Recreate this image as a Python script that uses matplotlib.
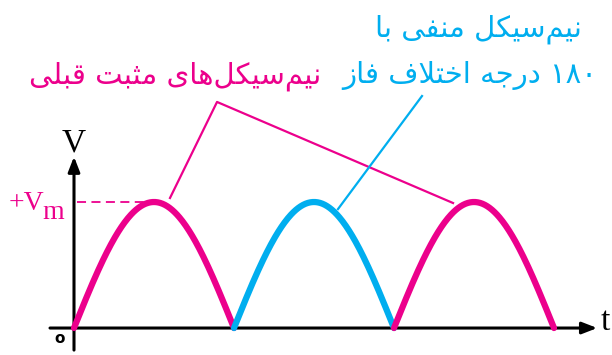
import numpy as np
import matplotlib
matplotlib.use("Agg")
import matplotlib.pyplot as plt

# --- data -------------------------------------------------------------------
half_period = 1.0            # duration of one half-cycle
v_peak = 1.0                 # Vm
hump_starts = [0.0, 1.0, 2.0]
hump_kind = ["positive", "inverted", "positive"]

label_positive = "نیم" + "\u200c" + "سیکل" + "\u200c" + "های مثبت قبلی"
label_negative_1 = "نیم" + "\u200c" + "سیکل منفی با"
label_negative_2 = "۱۸۰ درجه اختلاف فاز"

PINK = "#EC008C"
BLUE = "#00AEEF"
kind_color = {"positive": PINK, "inverted": BLUE}

# --- tiny Persian shaper (matplotlib has no complex text layout) ------------
ZWNJ = "\u200c"
FORMS = {
    "\u0627": ("\uFE8D", "\uFE8E", None, None),          # alef
    "\u0628": ("\uFE8F", "\uFE90", "\uFE91", "\uFE92"),  # beh
    "\u062A": ("\uFE95", "\uFE96", "\uFE97", "\uFE98"),  # teh
    "\u062B": ("\uFE99", "\uFE9A", "\uFE9B", "\uFE9C"),  # theh
    "\u062C": ("\uFE9D", "\uFE9E", "\uFE9F", "\uFEA0"),  # jeem
    "\u062E": ("\uFEA5", "\uFEA6", "\uFEA7", "\uFEA8"),  # khah
    "\u062F": ("\uFEA9", "\uFEAA", None, None),          # dal
    "\u0631": ("\uFEAD", "\uFEAE", None, None),          # reh
    "\u0632": ("\uFEAF", "\uFEB0", None, None),          # zain
    "\u0633": ("\uFEB1", "\uFEB2", "\uFEB3", "\uFEB4"),  # seen
    "\u0641": ("\uFED1", "\uFED2", "\uFED3", "\uFED4"),  # feh
    "\u0642": ("\uFED5", "\uFED6", "\uFED7", "\uFED8"),  # qaf
    "\u0644": ("\uFEDD", "\uFEDE", "\uFEDF", "\uFEE0"),  # lam
    "\u0645": ("\uFEE1", "\uFEE2", "\uFEE3", "\uFEE4"),  # meem
    "\u0646": ("\uFEE5", "\uFEE6", "\uFEE7", "\uFEE8"),  # noon
    "\u0647": ("\uFEE9", "\uFEEA", "\uFEEB", "\uFEEC"),  # heh
    "\u06CC": ("\uFBFC", "\uFBFD", "\uFBFE", "\uFBFF"),  # farsi yeh
    "\u06A9": ("\uFB8E", "\uFB8F", "\uFB90", "\uFB91"),  # keheh
}


def joins_left(c):
    return c in FORMS and FORMS[c][2] is not None


def shape_word(w):
    w = w.replace("\u064A", "\u06CC").replace("\u0643", "\u06A9")
    out, i = [], 0
    while i < len(w):
        c = w[i]
        if c not in FORMS:
            if c != ZWNJ:
                out.append(c)
            i += 1
            continue
        jp = i > 0 and joins_left(w[i - 1])
        if c == "\u0644" and i + 1 < len(w) and w[i + 1] == "\u0627":
            out.append("\uFEFC" if jp else "\uFEFB")
            i += 2
            continue
        jn = joins_left(c) and i + 1 < len(w) and w[i + 1] in FORMS
        iso, fin, ini, med = FORMS[c]
        out.append(med if (jp and jn) else fin if jp else ini if jn else iso)
        i += 1
    return out


def rtl(text):
    words = []
    for w in text.split(" "):
        if all(ch.isdigit() for ch in w):
            words.append(w)
        else:
            words.append("".join(reversed(shape_word(w))))
    return " ".join(reversed(words))


# --- figure -----------------------------------------------------------------
fig = plt.figure(figsize=(6.12, 3.55), dpi=100)
ax = fig.add_axes([0, 0, 1, 1])
ax.set_xlim(-0.4625, 3.3625)
ax.set_ylim(-0.214, 2.603)
ax.axis("off")

# axes with arrows
ax.annotate("", xy=(3.27, 0), xytext=(-0.15, 0),
            arrowprops=dict(arrowstyle="-|>,head_length=0.9,head_width=0.35",
                            lw=2.2, color="black", shrinkA=0, shrinkB=0))
ax.annotate("", xy=(0, 1.36), xytext=(0, -0.175),
            arrowprops=dict(arrowstyle="-|>,head_length=0.9,head_width=0.35",
                            lw=2.2, color="black", shrinkA=0, shrinkB=0))

# rectified half-cycles
for start, kind in zip(hump_starts, hump_kind):
    tt = np.linspace(0, half_period, 200)
    ax.plot(start + tt, v_peak * np.sin(np.pi * tt / half_period),
            color=kind_color[kind], lw=4.5, solid_capstyle="round", zorder=3)

# Vm marker
ax.plot([0.02, 0.47], [v_peak, v_peak], color=PINK, lw=1.3,
        linestyle=(0, (5, 3)), zorder=2)
ax.text(-0.185, v_peak - 0.01, "+V", color=PINK, fontsize=20,
        family="Liberation Serif", ha="right", va="center")
ax.text(-0.195, v_peak - 0.08, "m", color=PINK, fontsize=20,
        family="Liberation Serif", ha="left", va="center")

ax.text(0, 1.47, "V", fontsize=24, family="Liberation Serif",
        ha="center", va="center")
ax.text(3.32, 0.05, "t", fontsize=24, family="Liberation Serif",
        ha="center", va="center")
ax.text(-0.09, -0.08, "o", fontsize=11, fontweight="bold",
        ha="center", va="center")

# pointer lines
ax.plot([0.60, 0.894, 2.369], [1.032, 1.794, 0.992], color=PINK, lw=1.6)
ax.plot([1.65, 2.175], [0.944, 1.841], color=BLUE, lw=1.6)

# captions
ax.text(0.631, 2.00, rtl(label_positive), color=PINK, fontsize=21,
        family=["DejaVu Sans"], ha="center", va="center")
ax.text(2.525, 2.37, rtl(label_negative_1), color=BLUE, fontsize=21,
        family=["DejaVu Sans"], ha="center", va="center")
ax.text(2.475, 2.00, rtl(label_negative_2), color=BLUE, fontsize=21,
        family=["DejaVu Sans"], ha="center", va="center")

fig.savefig("out.png", dpi=100)
